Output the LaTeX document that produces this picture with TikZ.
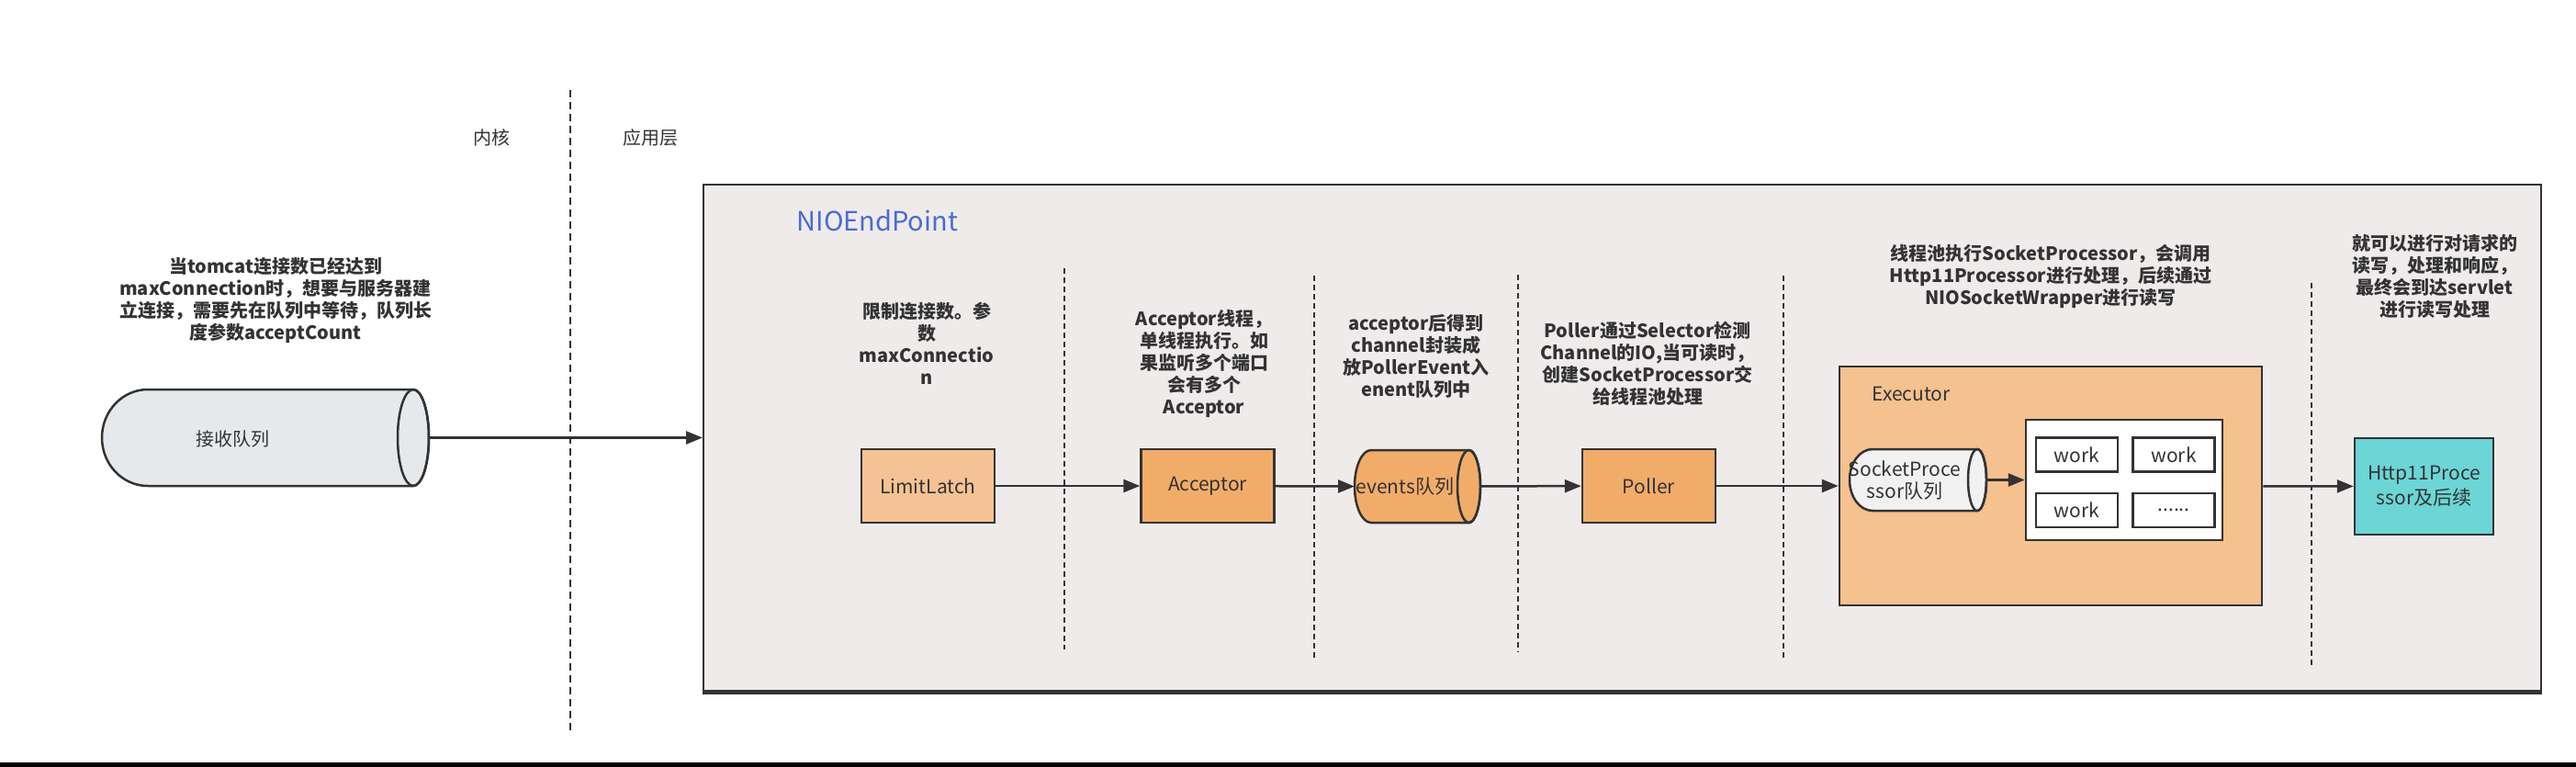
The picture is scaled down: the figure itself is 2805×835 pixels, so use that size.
\documentclass[tikz,border=0pt]{standalone}
\usepackage{fontspec}
\setmainfont{Noto Sans CJK SC}
\usepackage{tikz}
\usetikzlibrary{arrows.meta, positioning, calc}
\definecolor{lineDark}{HTML}{333333}
\definecolor{endBg}{HTML}{EFEBEA}
\definecolor{latchOrange}{HTML}{F5C393}
\definecolor{deepOrange}{HTML}{F2AC69}
\definecolor{execOrange}{HTML}{F4C18F}
\definecolor{httpTeal}{HTML}{6CD5D6}
\definecolor{queueGray}{HTML}{E6E9EC}
\definecolor{spGray}{HTML}{F1F1F1}
\definecolor{titleBlue}{HTML}{4A6CD2}

\begin{document}
\begin{tikzpicture}[
    x=1pt, y=-1pt,
    font=\fontsize{20}{24}\selectfont,
    every node/.style={text=lineDark},
    plainbox/.style={rectangle, draw=lineDark, line width=2.5pt, minimum width=145pt, minimum height=80pt, inner sep=0pt, font=\fontsize{21}{26}\selectfont},
    workbox/.style={rectangle, draw=lineDark, line width=2.5pt, fill=white, minimum width=89pt, minimum height=37pt, inner sep=0pt, font=\fontsize{21}{26}\selectfont},
    ghost/.style={rectangle, inner sep=0pt, outer sep=0pt},
    note/.style={align=center, font=\bfseries\fontsize{20}{24}\selectfont},
    divider/.style={draw=lineDark, line width=2pt, dash pattern=on 6pt off 4pt},
    qline/.style={draw=lineDark, line width=2.5pt},
    arrow/.style={-{Triangle[length=18pt, width=14pt]}, line width=2.5pt, draw=lineDark}
]
\useasboundingbox (0,0) rectangle (2805,835);
\fill[white] (0,0) rectangle (2805,835);
\fill[black] (0,830) rectangle (2805,835);

% kernel / application split
\draw[divider, dash pattern=on 8pt off 5pt] (621,98) -- (621,796);
\node (kern) at (535,150) {内核};
\node (app) at (708,150) {应用层};

% accept queue
\node[note] (waitnote) at (300,327) {当tomcat连接数已经达到\\maxConnection时，想要与服务器建\\立连接，需要先在队列中等待，队列长\\度参数acceptCount};
\node[ghost, minimum width=356pt, minimum height=105pt] (rq) at (289,476.5) {};
\draw[qline, fill=queueGray] ([xshift=-17pt]rq.north east) -- ([xshift=50pt]rq.north west)
    arc[start angle=90, end angle=270, x radius=50pt, y radius=52.5pt]
    -- ([xshift=-17pt]rq.south east)
    arc[start angle=-90, end angle=90, x radius=17pt, y radius=52.5pt] -- cycle;
\draw[qline] ([xshift=-17pt]rq.east) ellipse[x radius=17pt, y radius=52.5pt];
\node (rqtext) at (253,478) {接收队列};

% NIOEndPoint
\node[rectangle, draw=lineDark, line width=2pt, fill=endBg, minimum width=2001pt, minimum height=551pt, inner sep=0pt] (nio) at (1766.5,476.5) {};
\draw[lineDark, line width=4pt] ([yshift=-1pt]nio.south west) -- ([yshift=-1pt]nio.south east);
\node[text=titleBlue, anchor=west, font=\fontsize{29}{34}\selectfont] (niotitle) at (864,240) {NIOEndPoint};
\draw[arrow] (rq.east) -- (nio.west);

\draw[divider] (1159,292) -- (1159,707);
\draw[divider] (1431,300) -- (1431,716);
\draw[divider] (1653,299) -- (1653,710);
\draw[divider] (1942,300) -- (1942,719);
\draw[divider] (2517,308) -- (2517,725);

% notes per stage
\node[note] (n1) at (1009,374) {限制连接数。参\\数\\maxConnectio\\n};
\node[note] (n2) at (1311,395.5) {Acceptor线程，\\单线程执行。如\\果监听多个端口\\会有多个\\Acceptor};
\node[note] (n3) at (1542,387.5) {acceptor后得到\\channel封装成\\放PollerEvent入\\enent队列中};
\node[note] (n4) at (1794,395.5) {Poller通过Selector检测\\Channel的IO,当可读时，\\创建SocketProcessor交\\给线程池处理};
\node[note] (n5) at (2233,301) {线程池执行SocketProcessor，会调用\\Http11Processor进行处理，后续通过\\NIOSocketWrapper进行读写};
\node[note] (n6) at (2651,300.5) {就可以进行对请求的\\读写，处理和响应，\\最终会到达servlet\\进行读写处理};

% stages
\node[plainbox, fill=latchOrange] (latch) at (1010.5,529) {LimitLatch};
\node[plainbox, fill=deepOrange, right=157pt of latch] (acceptor) {Acceptor};

\node[ghost, minimum width=137pt, minimum height=79pt] (events) at (1543.5,529.5) {};
\draw[qline, fill=deepOrange] ([xshift=-12.5pt]events.north east) -- ([xshift=18pt]events.north west)
    arc[start angle=90, end angle=270, x radius=18pt, y radius=39.5pt]
    -- ([xshift=-12.5pt]events.south east)
    arc[start angle=-90, end angle=90, x radius=12.5pt, y radius=39.5pt] -- cycle;
\draw[qline] ([xshift=-12.5pt]events.east) ellipse[x radius=12.5pt, y radius=39.5pt];
\node[font=\fontsize{21}{26}\selectfont] (eventstext) at (1530,530) {events队列};

\node[plainbox, fill=deepOrange] (poller) at (1795.5,529) {Poller};

% Executor
\node[rectangle, draw=lineDark, line width=2.5pt, fill=execOrange, minimum width=460pt, minimum height=260pt, inner sep=0pt] (exec) at (2233,529) {};
\node[anchor=west, font=\fontsize{21}{26}\selectfont] (exectitle) at (2035,429) {Executor};

\node[ghost, minimum width=149pt, minimum height=67pt] (spq) at (2088.5,522.5) {};
\draw[qline, fill=spGray] ([xshift=-10pt]spq.north east) -- ([xshift=25pt]spq.north west)
    arc[start angle=90, end angle=270, x radius=25pt, y radius=33.5pt]
    -- ([xshift=-10pt]spq.south east)
    arc[start angle=-90, end angle=90, x radius=10pt, y radius=33.5pt] -- cycle;
\draw[qline] ([xshift=-10pt]spq.east) ellipse[x radius=10pt, y radius=33.5pt];
\node[align=center, font=\fontsize{21}{24}\selectfont] (spqtext) at (2074,523) {SocketProce\\ssor队列};

\node[rectangle, draw=lineDark, line width=2.5pt, fill=white, minimum width=214pt, minimum height=131pt, inner sep=0pt] (pool) at (2313,522.5) {};
\node[workbox] (w1) at (2261.5,495) {work};
\node[workbox, right=14pt of w1] (w2) {work};
\node[workbox, below=21pt of w1] (w3) {work};
\node[workbox, right=14pt of w3] (w4) {......};

\node[plainbox, fill=httpTeal, minimum width=151pt, minimum height=105pt, align=center, font=\fontsize{21}{27}\selectfont] (http) at (2639.5,529.5) {Http11Proce\\ssor及后续};

\draw[arrow] (latch) -- (acceptor);
\draw[arrow] (acceptor) -- (events.west);
\draw[arrow] (events) -- (poller);
\draw[arrow] (poller) -- (exec);
\draw[arrow] (spq) -- (pool);
\draw[arrow] (exec) -- (http);

\end{tikzpicture}
\end{document}
